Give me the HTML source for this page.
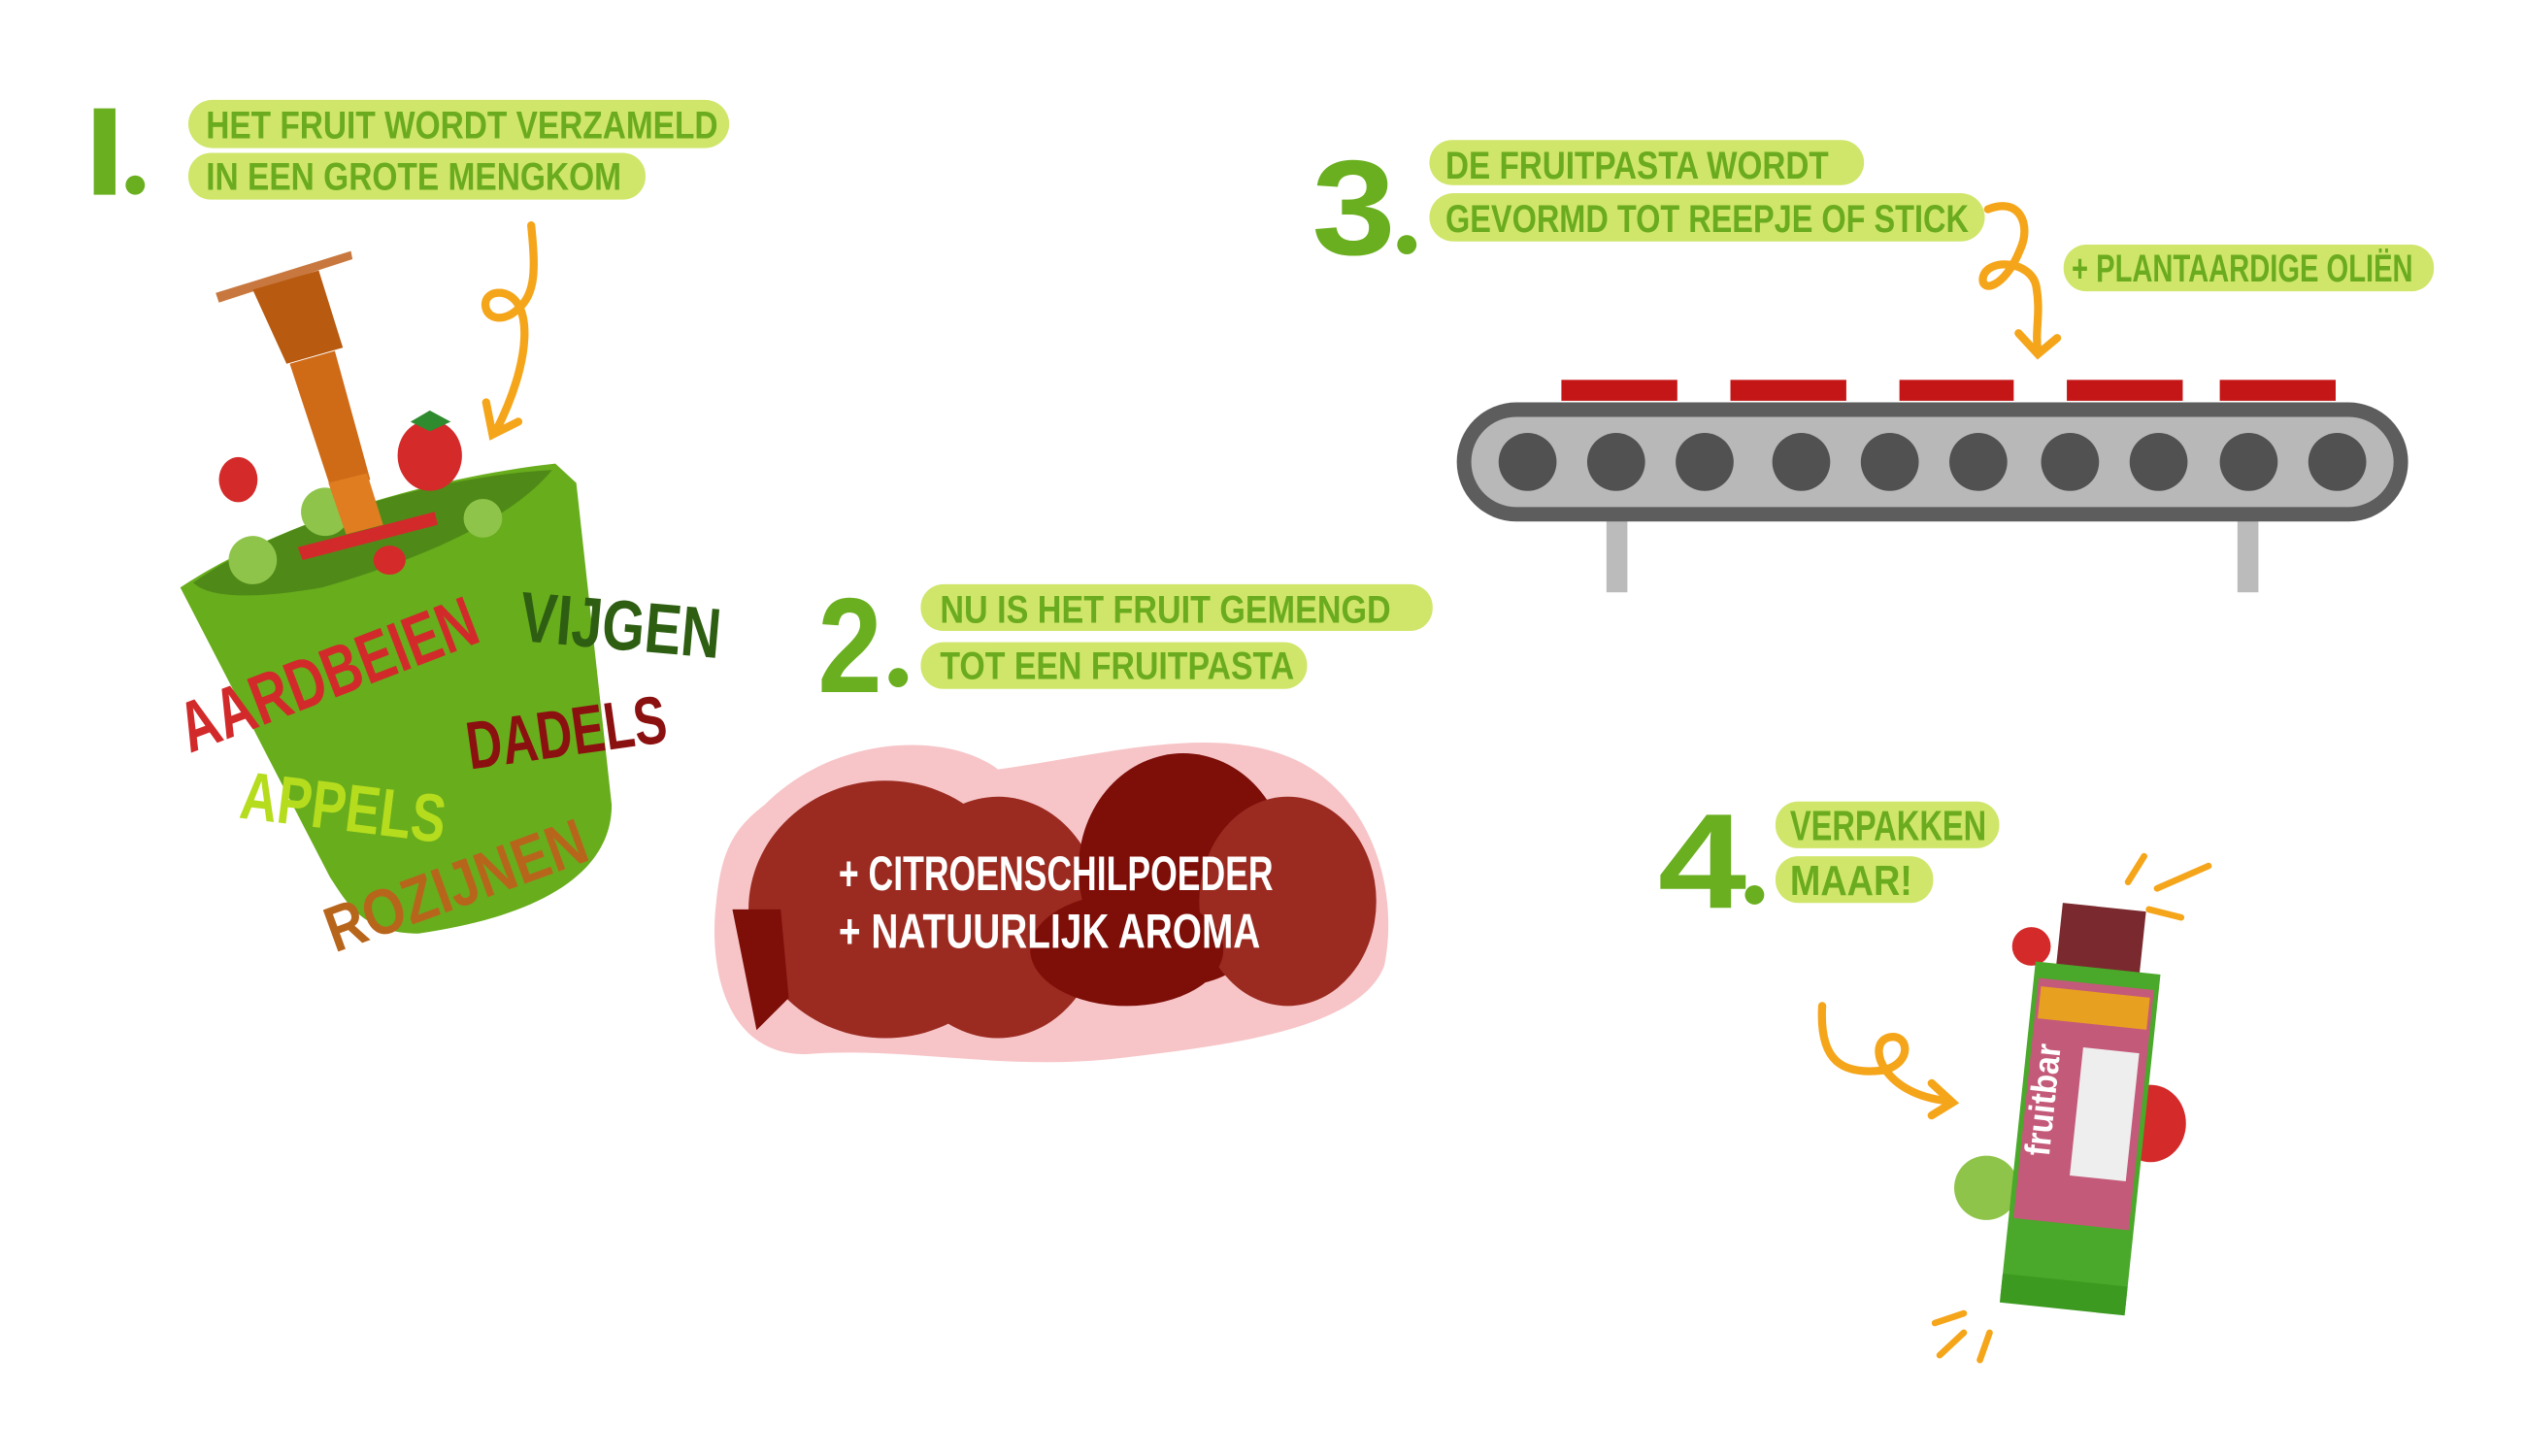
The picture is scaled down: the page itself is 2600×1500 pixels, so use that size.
<!DOCTYPE html>
<html><head><meta charset="utf-8"><style>
html,body{margin:0;padding:0;background:#fff;}
svg{display:block;}
text{font-family:"Liberation Sans Narrow","Liberation Sans",sans-serif;font-weight:bold;}
</style></head><body>
<svg width="2600" height="1500" viewBox="0 0 1568 904.6" xmlns="http://www.w3.org/2000/svg">
<rect width="1568" height="905" fill="#fff"/>
<!-- STEP 1 -->
<text x="52" y="121" font-size="78" fill="#6aaf1f" textLength="26" lengthAdjust="spacingAndGlyphs">I</text>
<circle cx="84" cy="115" r="6" fill="#6aaf1f"/>
<rect x="117" y="62" width="336" height="30" rx="15" fill="#cfe66a"/>
<rect x="117" y="95" width="284" height="29" rx="14" fill="#cfe66a"/>
<text x="128" y="86" font-size="24" fill="#6aab1f" textLength="318" lengthAdjust="spacingAndGlyphs">HET FRUIT WORDT VERZAMELD</text>
<text x="128" y="118" font-size="24" fill="#6aab1f" textLength="258" lengthAdjust="spacingAndGlyphs">IN EEN GROTE MENGKOM</text>
<path d="M330 140 C 333 170, 333 185, 318 195 C 300 205, 295 180, 312 182 C 332 186, 330 225, 308 268" stroke="#f5a51a" stroke-width="5" fill="none" stroke-linecap="round"/>
<path d="M302 250 L306 270 L322 262" stroke="#f5a51a" stroke-width="5" fill="none" stroke-linecap="round"/>
<!-- bucket -->
<path d="M112 365 C 180 320, 280 295, 345 288 L 358 300 L 380 500 C 380 545, 330 570, 260 580 C 225 580, 215 560, 205 545 Z" fill="#68ad1c"/>
<path d="M120 362 C 180 320, 280 295, 343 292 C 320 320, 270 345, 200 365 C 160 372, 130 372, 120 362 Z" fill="#4f8a18"/>
<!-- fruit -->
<circle cx="157" cy="348" r="15" fill="#8fc44a"/>
<circle cx="202" cy="318" r="15" fill="#8fc44a"/>
<circle cx="300" cy="322" r="12" fill="#8fc44a"/>
<ellipse cx="148" cy="298" rx="12" ry="14" fill="#d42a2a"/>
<ellipse cx="267" cy="283" rx="20" ry="22" fill="#d42a2a"/>
<path d="M255 262 L267 255 L280 262 L267 268 Z" fill="#2e8b2e"/>
<ellipse cx="242" cy="348" rx="10" ry="9" fill="#d42a2a"/>
<!-- plunger -->
<path d="M134 182 L218 156 L219 161 L136 188 Z" fill="#c8783f"/>
<path d="M157 180 L198 168 L213 216 L178 226 Z" fill="#b85a10"/>
<path d="M180 226 L208 218 L230 298 L206 305 Z" fill="#cf6a17"/>
<path d="M204 300 L228 294 L238 326 L215 332 Z" fill="#e07d20"/>
<path d="M185 340 L270 318 L272 326 L188 348 Z" fill="#d22a2a"/>
<!-- words -->
<text transform="translate(118 468) rotate(-21)" font-size="44" fill="#d22a2a" textLength="195" lengthAdjust="spacingAndGlyphs">AARDBEIEN</text>
<text transform="translate(322 398) rotate(5)" font-size="44" fill="#2e5e12" textLength="125" lengthAdjust="spacingAndGlyphs">VIJGEN</text>
<text transform="translate(292 478) rotate(-8)" font-size="42" fill="#8b1010" textLength="125" lengthAdjust="spacingAndGlyphs">DADELS</text>
<text transform="translate(148 508) rotate(7)" font-size="42" fill="#b6dc1e" textLength="128" lengthAdjust="spacingAndGlyphs">APPELS</text>
<text transform="translate(208 592) rotate(-20)" font-size="40" fill="#b8651c" textLength="170" lengthAdjust="spacingAndGlyphs">ROZIJNEN</text>
<!-- STEP 2 -->
<text x="508" y="430" font-size="84" fill="#6aaf1f" textLength="40" lengthAdjust="spacingAndGlyphs">2</text>
<circle cx="558" cy="421" r="6" fill="#6aaf1f"/>
<rect x="572" y="363" width="318" height="29" rx="14" fill="#cfe66a"/>
<rect x="572" y="399" width="240" height="29" rx="14" fill="#cfe66a"/>
<text x="584" y="387" font-size="24" fill="#6aab1f" textLength="280" lengthAdjust="spacingAndGlyphs">NU IS HET FRUIT GEMENGD</text>
<text x="584" y="422" font-size="24" fill="#6aab1f" textLength="220" lengthAdjust="spacingAndGlyphs">TOT EEN FRUITPASTA</text>
<path d="M475 500 C 520 455, 590 455, 620 478 C 680 470, 750 450, 800 470 C 850 490, 870 550, 860 600 C 845 640, 760 650, 690 658 C 620 665, 560 650, 500 655 C 450 655, 440 600, 445 560 C 448 530, 455 515, 475 500 Z" fill="#f7c5c8"/>
<ellipse cx="550" cy="565" rx="85" ry="80" fill="#9b2b20"/>
<ellipse cx="620" cy="570" rx="65" ry="75" fill="#9b2b20"/>
<ellipse cx="735" cy="540" rx="65" ry="72" fill="#7d0e08"/>
<ellipse cx="800" cy="560" rx="55" ry="65" fill="#9b2b20"/>
<ellipse cx="700" cy="590" rx="60" ry="35" fill="#7d0e08"/>
<path d="M455 565 L485 565 L490 620 L470 640 Z" fill="#7d0e08"/>
<text x="521" y="553" font-size="30" fill="#fff" textLength="270" lengthAdjust="spacingAndGlyphs">+ CITROENSCHILPOEDER</text>
<text x="521" y="589" font-size="30" fill="#fff" textLength="262" lengthAdjust="spacingAndGlyphs">+ NATUURLIJK AROMA</text>
<!-- STEP 3 -->
<text x="815" y="158" font-size="84" fill="#6aaf1f" textLength="52" lengthAdjust="spacingAndGlyphs">3</text>
<circle cx="874" cy="152" r="6" fill="#6aaf1f"/>
<rect x="888" y="87" width="270" height="28" rx="14" fill="#cfe66a"/>
<rect x="888" y="120" width="345" height="30" rx="15" fill="#cfe66a"/>
<text x="898" y="111" font-size="24" fill="#6aab1f" textLength="238" lengthAdjust="spacingAndGlyphs">DE FRUITPASTA WORDT</text>
<text x="898" y="144" font-size="24" fill="#6aab1f" textLength="325" lengthAdjust="spacingAndGlyphs">GEVORMD TOT REEPJE OF STICK</text>
<rect x="1282" y="152" width="230" height="29" rx="14" fill="#cfe66a"/>
<text x="1287" y="175" font-size="24" fill="#6aab1f" textLength="212" lengthAdjust="spacingAndGlyphs">+ PLANTAARDIGE OLIËN</text>
<path d="M1235 130 C 1255 122, 1262 140, 1255 155 C 1245 180, 1230 182, 1232 172 C 1235 160, 1262 162, 1265 178 C 1268 195, 1264 205, 1266 218" stroke="#f5a51a" stroke-width="5" fill="none" stroke-linecap="round"/>
<path d="M1254 207 L1266 220 L1278 210" stroke="#f5a51a" stroke-width="5" fill="none" stroke-linecap="round"/>
<rect x="970" y="236" width="72" height="13" fill="#c41616"/>
<rect x="1075" y="236" width="72" height="13" fill="#c41616"/>
<rect x="1180" y="236" width="71" height="13" fill="#c41616"/>
<rect x="1284" y="236" width="72" height="13" fill="#c41616"/>
<rect x="1379" y="236" width="72" height="13" fill="#c41616"/>
<rect x="998" y="318" width="13" height="50" fill="#bbbbbb"/>
<rect x="1390" y="318" width="13" height="50" fill="#bbbbbb"/>
<rect x="905" y="250" width="591" height="74" rx="37" fill="#5d5d5d"/>
<rect x="914" y="259" width="573" height="56" rx="28" fill="#b8b8b8"/>
<g fill="#515151">
<circle cx="949" cy="287" r="18"/><circle cx="1004" cy="287" r="18"/><circle cx="1059" cy="287" r="18"/><circle cx="1119" cy="287" r="18"/><circle cx="1174" cy="287" r="18"/><circle cx="1229" cy="287" r="18"/><circle cx="1286" cy="287" r="18"/><circle cx="1341" cy="287" r="18"/><circle cx="1397" cy="287" r="18"/><circle cx="1452" cy="287" r="18"/>
</g>
<!-- STEP 4 -->
<text x="1030" y="564" font-size="84" fill="#6aaf1f" textLength="55" lengthAdjust="spacingAndGlyphs">4</text>
<circle cx="1090" cy="556" r="6" fill="#6aaf1f"/>
<rect x="1103" y="498" width="139" height="29" rx="14" fill="#cfe66a"/>
<rect x="1103" y="532" width="98" height="29" rx="14" fill="#cfe66a"/>
<text x="1112" y="522" font-size="26" fill="#6aab1f" textLength="122" lengthAdjust="spacingAndGlyphs">VERPAKKEN</text>
<text x="1112" y="556" font-size="26" fill="#6aab1f" textLength="76" lengthAdjust="spacingAndGlyphs">MAAR!</text>
<path d="M1132 625 C 1130 660, 1145 668, 1170 665 C 1190 660, 1185 640, 1172 645 C 1160 650, 1170 680, 1210 684" stroke="#f5a51a" stroke-width="5" fill="none" stroke-linecap="round"/>
<path d="M1200 673 L1213 685 L1200 693" stroke="#f5a51a" stroke-width="5" fill="none" stroke-linecap="round"/>
<g stroke="#f5a51a" stroke-width="4" stroke-linecap="round">
<line x1="1322" y1="548" x2="1332" y2="532"/><line x1="1340" y1="552" x2="1372" y2="538"/><line x1="1335" y1="565" x2="1355" y2="570"/>
<line x1="1205" y1="842" x2="1220" y2="828"/><line x1="1202" y1="822" x2="1220" y2="816"/><line x1="1230" y1="845" x2="1236" y2="828"/>
</g>
<circle cx="1262" cy="588" r="12" fill="#d42a2a"/>
<circle cx="1234" cy="738" r="20" fill="#8fc44a"/>
<ellipse cx="1336" cy="698" rx="22" ry="24" fill="#d42a2a"/>
<g transform="rotate(6 1285 690)">
<rect x="1268" y="562" width="52" height="70" fill="#7a2a2e"/>
<rect x="1255" y="600" width="78" height="210" fill="#4aa82a"/>
<rect x="1258" y="610" width="72" height="150" fill="#c45a7a"/>
<rect x="1260" y="615" width="68" height="20" fill="#e8a020"/>
<rect x="1290" y="650" width="35" height="80" fill="#eeeeee"/>
<rect x="1255" y="795" width="78" height="18" fill="#3c9a20"/>
<text transform="translate(1276 720) rotate(-90)" font-size="22" fill="#fff" textLength="70" lengthAdjust="spacingAndGlyphs">fruitbar</text>
</g>
</svg>
</body></html>
